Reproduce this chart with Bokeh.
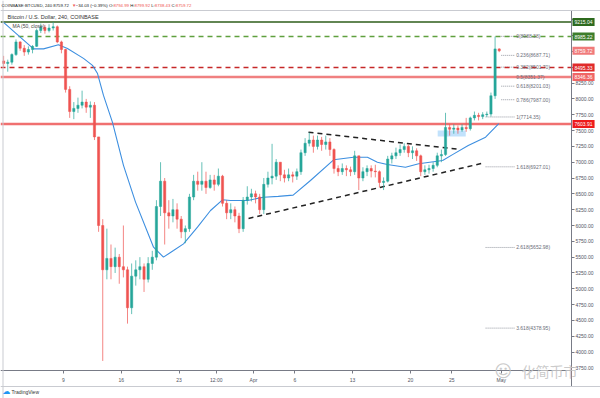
import pandas as pd
from bokeh.plotting import figure
from bokeh.models import Span, Label, FixedTicker, PrintfTickFormatter, Range1d, ColumnDataSource
from bokeh.embed import file_html
from bokeh.resources import INLINE
from bokeh.core.properties import value

FONT = "Liberation Sans"
CJK = "Noto Sans CJK SC"

# ---------------- data (BTC/USD, Coinbase, 12h bars) ----------------
first_open = 8600
close = [8560, 8580, 8700, 8900, 8800, 8740, 8780, 8830, 9080, 9130,
         9080, 9120, 9140, 8900, 8780, 8150, 7800, 7850, 7900, 7950,
         7870, 7900, 7400, 6000, 5300, 5480, 5350, 5500, 5350, 5300,
         4700, 5200, 5300, 5350, 5150, 5400, 5500, 6300, 6700, 6200,
         6150, 6250, 6100, 5900, 5950, 6450, 6700, 6650, 6700, 6600,
         6720, 6650, 6780, 6350, 6200, 6250, 6150, 5950, 6400, 6450,
         6500, 6450, 6250, 6650, 6750, 6780, 7000, 6800, 6750, 6800,
         6780, 6850, 7150, 7300, 7350, 7250, 7350, 7280, 7320, 7200,
         6900, 6850, 6900, 6880, 6850, 7100, 6750, 6850, 6900, 6860,
         6850, 6680, 6700, 7050, 7100, 7150, 7200, 7250, 7150, 7180,
         7100, 6850, 6880, 6900, 6950, 7100, 7120, 7550, 7520, 7540,
         7510, 7550, 7530, 7700, 7740, 7720, 7750, 7760, 8050, 8790,
         8760]
high = [8680, 8620, 8720, 8940, 8910, 8850, 8830, 8850, 9110, 9190,
        9170, 9180, 9215, 9160, 8920, 8790, 8200, 7950, 8020, 8130,
        8000, 7960, 7950, 7400, 6100, 5950, 5700, 5650, 5550, 6000,
        5350, 5400, 5450, 5500, 5400, 5500, 5600, 6400, 7000, 6750,
        6400, 6420, 6350, 6150, 6000, 6500, 6800, 6850, 7000, 6850,
        6800, 6800, 6900, 6800, 6400, 6350, 6300, 6200, 6450, 6620,
        6580, 6550, 6500, 6750, 6850, 7290, 7050, 7000, 6880, 6900,
        6850, 6900, 7200, 7380, 7470, 7420, 7420, 7400, 7420, 7380,
        7220, 6950, 6980, 6950, 6930, 7180, 7100, 6920, 6950, 6950,
        6960, 6870, 6760, 7100, 7150, 7230, 7280, 7300, 7280, 7250,
        7220, 7120, 6950, 6960, 7000, 7150, 7200, 7780, 7600, 7600,
        7580, 7600, 7700, 7720, 7800, 7780, 7790, 7800, 8100, 8985,
        8800]
low = [8500, 8430, 8540, 8680, 8760, 8680, 8700, 8720, 8820, 9040,
       9030, 9050, 9080, 8880, 8720, 8100, 7700, 7680, 7780, 7850,
       7780, 7700, 7350, 5900, 3860, 5150, 5150, 5250, 5080, 5180,
       4450, 4600, 5050, 5150, 4950, 5100, 5300, 5450, 6150, 5700,
       5950, 6050, 5950, 5800, 5720, 5900, 6400, 6550, 6550, 6500,
       6580, 6550, 6620, 6300, 6100, 6100, 6050, 5880, 5900, 6330,
       6380, 6350, 6180, 6180, 6600, 6650, 6720, 6700, 6680, 6700,
       6680, 6720, 6800, 7100, 7250, 7150, 7200, 7180, 7200, 7100,
       6820, 6780, 6800, 6780, 6780, 6800, 6560, 6700, 6780, 6760,
       6760, 6600, 6560, 6680, 6980, 7050, 7100, 7150, 7080, 7050,
       7020, 6780, 6800, 6820, 6850, 6920, 7000, 7100, 7420, 7450,
       7450, 7480, 7480, 7500, 7660, 7660, 7680, 7714, 7720, 8000,
       8738]

# MA(50, close); time as day number (1 = 1 Mar 2020, 32 = 1 Apr 2020)
ma_day = [1.74, 5.37, 6.58, 8.39, 9.48, 11.42, 12.51, 13.12, 13.84, 14.93,
          16.26, 17.72, 19.9, 21.1, 22.32, 23.53, 25.22, 26.8, 28.25, 29.2,
          31.3, 33.2, 35.0, 36.8, 38.9, 41.7, 44.1, 45.8, 47.0, 48.2,
          50.4, 52.0, 54.9, 56.1, 58.0, 60.1, 61.7]
ma_value = [9210, 8790, 8790, 8855, 8795, 8640, 8530, 8400, 8055, 7630,
            6950, 6370, 5657, 5500, 5605, 5710, 5973, 6237, 6406, 6395,
            6395, 6447, 6460, 6480, 6711, 7038, 7079, 7079, 7000, 6964,
            6921, 6975, 7027, 7120, 7264, 7395, 7610]

level_price = [9215.04, 8985.22, 8495.33, 8346.36, 7603.91]
last_price = 8759.72

fib_ratio = [0, 0.236, 0.382, 0.5, 0.618, 0.786, 1, 1.618, 2.618, 3.618]
fib_price = [8988.38, 8687.71, 8501.70, 8351.37, 8201.03, 7987.00, 7714.35, 6927.01, 5652.98, 4378.95]

tick_day = [9, 16, 23, 27.5, 32, 37, 44, 51, 56, 62]
tick_label = ["9", "16", "23", "12:00", "Apr", "6", "13", "20", "25", "May"]
price_ticks = [3750 + 250 * k for k in range(23)]

tri_upper_day = [38.66, 57.06]
tri_upper_price = [7474, 7200]
tri_lower_day = [31.40, 59.73]
tri_lower_price = [6111, 6984]
box_day = [54.3, 57.7]
box_price = [7406, 7500]

header_parts = [("COINBASE:BTCUSD, 240 8759.72 ", "dark"), ("\u25BC ", "red"),
                ("\u221234.03 (\u22120.39%) ", "dark"), ("O:", "dark"), ("8794.99 ", "red"),
                ("H:", "dark"), ("8799.92 ", "red"), ("L:", "dark"), ("8738.43 ", "red"),
                ("C:", "dark"), ("8759.72", "red")]

# ---------------- layout ----------------
W_PX, H_PX = 600, 398
PX_PER_DAY = 8.26
PX_PER_USD = 0.0633
X0 = 9 - 63 / PX_PER_DAY                 # day at left edge
YTOP = 7000 + 161.7 / PX_PER_USD         # price at top edge
YBOT = YTOP - H_PX / PX_PER_USD
def day_at(px):
    return X0 + px / PX_PER_DAY
def price_at(py):
    return YTOP - py / PX_PER_USD

UP, DOWN = "#26a69a", "#ef5350"
DARK = "#131722"
AX = "#50535e"

times = pd.date_range("2020-03-01 18:00", periods=len(close), freq="12h")
origin = pd.Timestamp("2020-02-29")
day = [float(v) for v in (times - origin) / pd.Timedelta(days=1)]
open_ = [first_open] + close[:-1]
color = [UP if c >= o else DOWN for o, c in zip(open_, close)]
top = [max(o, c) for o, c in zip(open_, close)]
bottom = [min(o, c) for o, c in zip(open_, close)]
src = ColumnDataSource(dict(day=day, high=high, low=low, top=top, bottom=bottom, color=color))

p = figure(width=W_PX, height=H_PX,
           x_range=Range1d(X0, X0 + W_PX / PX_PER_DAY), y_range=Range1d(YBOT, YTOP),
           y_axis_location="right", output_backend="svg", toolbar_location=None,
           min_border_left=0, min_border_right=0, min_border_top=0, min_border_bottom=0,
           background_fill_color="white", border_fill_color="white",
           outline_line_color=None)
p.xgrid.visible = False
p.ygrid.visible = False

AXIS_DAY = day_at(571)
AXIS_PRICE = price_at(370)

# axes (kept at fixed positions so that the whole canvas is plot area)
p.yaxis.ticker = FixedTicker(ticks=price_ticks)
p.yaxis.formatter = PrintfTickFormatter(format="%.2f")
p.yaxis.fixed_location = AXIS_DAY
p.yaxis.bounds = (price_at(386), price_at(10))
p.xaxis.ticker = FixedTicker(ticks=tick_day)
p.xaxis.major_label_overrides = {t: s for t, s in zip(tick_day, tick_label)}
p.xaxis.fixed_location = AXIS_PRICE
p.xaxis.bounds = (X0, AXIS_DAY)
for ax in (p.xaxis[0], p.yaxis[0]):
    ax.major_label_text_font = FONT
    ax.major_label_text_font_size = "5px"
    ax.major_label_text_color = AX
    ax.axis_line_color = "#787b86"
    ax.major_tick_line_color = "#787b86"
    ax.major_tick_in = 0
    ax.major_tick_out = 3
    ax.minor_tick_line_color = None
p.yaxis.major_label_standoff = 1
p.xaxis.major_label_standoff = 3

# panel borders
p.add_layout(Span(location=price_at(10), dimension="width", line_color="#c9cbd1", line_width=1))
p.add_layout(Span(location=price_at(386), dimension="width", line_color="#c9cbd1", line_width=1))
p.add_layout(Span(location=day_at(2.5), dimension="height", line_color="#c9cbd1", line_width=1))

# fib retracement lines (under candles)
fib_x0 = [62.0 if r < 1 else 60.1 for r in fib_ratio]
fib_x1 = [63.6] * len(fib_ratio)
p.segment(x0=fib_x0, y0=fib_price, x1=fib_x1, y1=fib_price,
          line_color="#9598a1", line_width=1, line_dash="1 1")

# horizontal levels
lv_color = ["#2e5e1a", "#5fa03e", "#c62828", "#f08080", "#f07070"]
lv_width = [1.5, 1.5, 1.5, 2.5, 2.5]
lv_dash = ["solid", "5 4", "5 4", "solid", "solid"]
for v, c, w, d in zip(level_price, lv_color, lv_width, lv_dash):
    p.segment(x0=[X0], y0=[v], x1=[AXIS_DAY], y1=[v], line_color=c, line_width=w, line_dash=d)

# highlight box
p.quad(left=[box_day[0]], right=[box_day[1]], bottom=[box_price[0]], top=[box_price[1]],
       fill_color="#90caf9", fill_alpha=0.55, line_color=None)

# triangle trendlines
p.line(tri_upper_day, tri_upper_price, line_color="#222222", line_width=1.5, line_dash="5 4")
p.line(tri_lower_day, tri_lower_price, line_color="#222222", line_width=1.5, line_dash="5 4")

# MA
p.line(ma_day, ma_value, line_color="#3d8fe0", line_width=1.1)

# candles
p.segment(x0="day", y0="high", x1="day", y1="low", line_color="color", line_alpha=0.7,
          line_width=1, source=src)
p.vbar(x="day", width=0.27, top="top", bottom="bottom", fill_color="color",
       line_color="color", line_width=0.5, source=src)

# fib labels
fib_text = [f"{r:g}({v:.2f})" for r, v in zip(fib_ratio, fib_price)]
p.text(x=[63.8] * len(fib_ratio), y=fib_price, text=fib_text, text_font=value(FONT),
       text_font_size="5px", text_color="#6a6d78", text_baseline="middle", text_align="left")

# price tags on the axis
tag_price = [9215.04, 8985.22, last_price, 8495.33, 8346.36, 7603.91]
tag_color = ["#2d6a1e", "#3d7d2b", "#f07a7a", "#e02a2a", "#f06565", "#ee1c1c"]
for v, c in zip(tag_price, tag_color):
    p.add_layout(Label(x=572, x_units="screen", y=v, y_units="data", text=f"{v:.2f}",
                       text_font=FONT, text_font_size="5px", text_color="white",
                       text_baseline="middle", text_align="left",
                       background_fill_color=c, padding=2))

# header
W = {".": .278, ":": .278, ",": .278, " ": .278, "(": .333, ")": .333, "%": .889,
     "\u2212": .584, "O": .778, "H": .722, "L": .556, "C": .722, "\u25BC": .6}
HF = 4.3
hx = 1
for txt, kind in header_parts:
    p.add_layout(Label(x=hx, x_units="screen", y=H_PX - 4.5, y_units="screen", text=txt,
                       text_font=FONT, text_font_size=f"{HF}px",
                       text_color=DARK if kind == "dark" else DOWN, text_baseline="middle"))
    hx += sum(W.get(ch, .556 if ch.isdigit() else .68) for ch in txt) * HF

p.add_layout(Label(x=7, x_units="screen", y=H_PX - 16, y_units="screen",
                   text="Bitcoin / U.S. Dollar, 240, COINBASE", text_font=FONT,
                   text_font_size="5.5px", text_color="#333333", text_baseline="middle"))
p.add_layout(Label(x=12, x_units="screen", y=H_PX - 25, y_units="screen",
                   text="MA (50, close)", text_font=FONT,
                   text_font_size="5px", text_color="#444444", text_baseline="middle"))

# watermark and footer
p.add_layout(Label(x=494, x_units="screen", y=H_PX - 370, y_units="screen", text="\u263A",
                   text_font="DejaVu Sans", text_font_size="17px", text_color="#c4c4c4",
                   text_baseline="middle", text_alpha=0.9))
p.add_layout(Label(x=521, x_units="screen", y=H_PX - 370, y_units="screen", text="化简币市",
                   text_font=CJK, text_font_size="14px", text_color="#c4c4c4",
                   text_baseline="middle", text_alpha=0.9))
p.add_layout(Label(x=2, x_units="screen", y=H_PX - 391, y_units="screen", text="\u2601",
                   text_font="DejaVu Sans", text_font_size="8px", text_color="#2196f3",
                   text_baseline="middle"))
p.add_layout(Label(x=11, x_units="screen", y=H_PX - 391, y_units="screen", text="TradingView",
                   text_font=FONT, text_font_size="5px", text_color="#333333",
                   text_baseline="middle"))

open("out.html", "w").write(file_html(p, INLINE))
